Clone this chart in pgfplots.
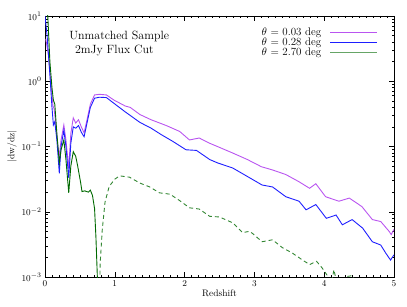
\documentclass[border=0pt]{standalone}
\usepackage{pgfplots}
\pgfplotsset{compat=1.18}
\definecolor{cviol}{RGB}{185,85,240}
\definecolor{cblue}{RGB}{30,30,255}
\definecolor{cgreen}{RGB}{0,105,0}
\begin{document}
\begin{tikzpicture}
\begin{axis}[
  name=ax,
  scale only axis,
  width=349bp, height=261bp,
  xmin=0, xmax=5,
  ymin=1e-3, ymax=10,
  ymode=log,
  xtick={0,1,2,3,4,5},
  minor x tick num=9,
  ytick={1e-3,1e-2,1e-1,1,10},
  tick align=inside,
  major tick length=5bp,
  minor tick length=2.5bp,
  axis line style={line width=0.8pt},
  every tick/.style={line width=0.5pt, black},
  tick label style={font=\fontsize{9.5}{10}\selectfont},
  xlabel={Redshift},
  ylabel={\textbar dw/dz\textbar},
  label style={font=\fontsize{9.5}{10}\selectfont},
  xlabel style={yshift=3pt},
  ylabel style={yshift=-2pt},
  clip=true,
]
\addplot[cviol, line width=0.9pt] coordinates {
(0.01,4.47)(0.05,2.51)(0.09,0.794)(0.115,0.417)(0.13,0.380)(0.15,0.251)(0.185,0.1)(0.205,0.0708)
(0.23,0.126)(0.27,0.214)(0.30,0.126)(0.34,0.0468)(0.37,0.158)(0.405,0.275)(0.44,0.229)(0.48,0.257)
(0.52,0.200)(0.56,0.162)(0.60,0.251)(0.65,0.447)(0.71,0.617)(0.78,0.631)(0.88,0.617)(0.99,0.513)
(1.15,0.417)(1.22,0.398)(1.36,0.309)(1.52,0.257)(1.74,0.209)(1.93,0.170)(2.07,0.126)(2.21,0.135)
(2.36,0.112)(2.47,0.1)(2.69,0.0794)(2.90,0.0631)(3.10,0.0490)(3.26,0.0437)(3.45,0.0372)(3.64,0.0288)
(3.79,0.0229)(3.88,0.0269)(4.02,0.0170)(4.21,0.0145)(4.36,0.0162)(4.54,0.0120)(4.69,0.00759)
(4.81,0.00708)(4.93,0.00501)(4.96,0.00447)(5.0,0.00537)
};
\addplot[cblue, line width=0.9pt] coordinates {
(0.0,10)(0.03,5.01)(0.07,1.26)(0.10,0.398)(0.12,0.214)(0.14,0.240)(0.17,0.126)(0.205,0.0389)
(0.23,0.1)(0.27,0.178)(0.30,0.1)(0.34,0.0331)(0.37,0.112)(0.405,0.2)(0.44,0.191)(0.48,0.209)
(0.52,0.166)(0.56,0.141)(0.60,0.224)(0.65,0.398)(0.71,0.550)(0.78,0.569)(0.88,0.562)(0.99,0.457)
(1.15,0.339)(1.36,0.234)(1.52,0.191)(1.67,0.151)(1.83,0.120)(2.02,0.0891)(2.17,0.0871)(2.36,0.0631)
(2.47,0.0562)(2.69,0.0468)(2.90,0.0347)(3.11,0.0257)(3.26,0.0240)(3.45,0.0170)(3.64,0.0145)
(3.74,0.0107)(3.88,0.0129)(4.03,0.00794)(4.17,0.00891)(4.26,0.00631)(4.40,0.00759)(4.55,0.00562)
(4.69,0.00347)(4.81,0.00309)(4.88,0.00234)(4.95,0.00182)(5.0,0.00219)
};
\addplot[cgreen, line width=0.9pt] coordinates {
(0.0,15.8)(0.04,10)(0.07,2.0)(0.10,0.794)(0.12,0.513)(0.14,0.447)(0.17,0.158)(0.205,0.0562)
(0.23,0.0891)(0.27,0.126)(0.30,0.0631)(0.34,0.0195)(0.37,0.0501)(0.405,0.0832)(0.44,0.0708)
(0.47,0.0490)(0.51,0.0282)(0.53,0.0204)(0.57,0.0209)(0.62,0.0200)(0.65,0.0214)(0.68,0.0178)
(0.71,0.0112)(0.73,0.00398)(0.75,0.001)(0.76,0.000316)
};
\addplot[cgreen!80!white, line width=0.9pt, dash pattern=on 4bp off 3bp] coordinates {
(0.78,0.000316)(0.79,0.00158)(0.82,0.00525)(0.86,0.0141)(0.92,0.0245)(1.0,0.0316)(1.07,0.0355)
(1.21,0.0339)(1.36,0.0275)(1.50,0.0240)(1.64,0.0195)(1.79,0.0186)(1.93,0.0148)(2.07,0.0115)
(2.21,0.0110)(2.36,0.00851)(2.50,0.00832)(2.69,0.00676)(2.83,0.00479)(2.93,0.00501)(2.97,0.00468)
(3.11,0.00347)(3.26,0.00372)(3.40,0.00282)(3.54,0.00234)(3.69,0.00182)(3.79,0.00155)(3.89,0.00174)
(3.97,0.00138)(4.04,0.00107)(4.08,0.00063)(4.14,0.00129)(4.2,0.00063)(4.33,0.00102)(4.40,0.00105)
(4.46,0.00079)
};
\node[anchor=base west, font=\fontsize{12}{12}\selectfont] at (axis cs:0.30,4.3) {Unmatched Sample};
\node[anchor=base west, font=\fontsize{12}{12}\selectfont] at (axis cs:0.38,2.69) {2mJy Flux Cut};
% legend
\node[anchor=west, inner sep=0pt, font=\fontsize{11}{11}\selectfont] at (rel axis cs:0.62,0.936) {$\theta$ = 0.03 deg};
\node[anchor=west, inner sep=0pt, font=\fontsize{11}{11}\selectfont] at (rel axis cs:0.62,0.898) {$\theta$ = 0.28 deg};
\node[anchor=west, inner sep=0pt, font=\fontsize{11}{11}\selectfont] at (rel axis cs:0.62,0.859) {$\theta$ = 2.70 deg};
\draw[cviol, line width=0.9pt] (rel axis cs:0.817,0.936) -- (rel axis cs:0.951,0.936);
\draw[cblue, line width=0.9pt] (rel axis cs:0.817,0.898) -- (rel axis cs:0.951,0.898);
\draw[cgreen!60!white, line width=0.9pt] (rel axis cs:0.817,0.859) -- (rel axis cs:0.951,0.859);
\end{axis}
\pgfresetboundingbox
\path[use as bounding box] ([xshift=-45bp,yshift=-29bp]ax.south west) rectangle ([xshift=13bp,yshift=16bp]ax.north east);
\end{tikzpicture}
\end{document}
